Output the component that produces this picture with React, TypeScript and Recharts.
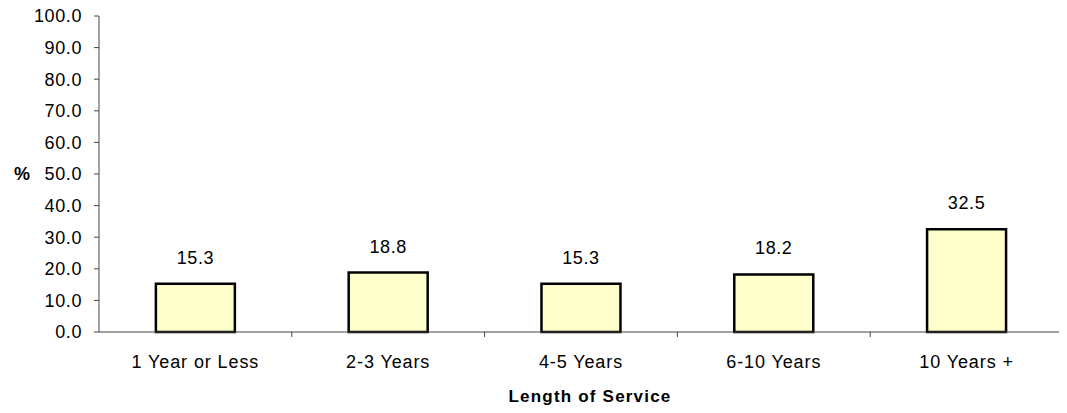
import React from "react";
import { BarChart, Bar, XAxis, YAxis, LabelList } from "recharts";

const categories = ["1 Year or Less", "2-3 Years", "4-5 Years", "6-10 Years", "10 Years +"];
const percents = [15.3, 18.8, 15.3, 18.2, 32.5];
const yTicks = [0, 10, 20, 30, 40, 50, 60, 70, 80, 90, 100];

const data = categories.map((name, i) => ({ name, value: percents[i] }));

const FONT = "'Liberation Sans', Arial, sans-serif";

// category label centred in its band, with a tick mark on the band's right edge
function CategoryTick(props: any) {
  const { x, y, payload } = props;
  const half = payload.offset ?? 96.4;
  return (
    <g>
      <line x1={x + half} x2={x + half} y1={y - 8} y2={y - 3} stroke="#444" strokeWidth={1} />
      <text
        x={x}
        y={y + 28}
        textAnchor="middle"
        fontFamily={FONT}
        fontSize={18}
        letterSpacing={0.9}
        fill="#000"
      >
        {payload.value}
      </text>
    </g>
  );
}

export default function App() {
  return (
    <div style={{ margin: -8, width: 1067, height: 413, background: "#fff" }}>
      <BarChart
        width={1067}
        height={413}
        data={data}
        margin={{ top: 16, right: 4, left: 0, bottom: 0 }}
        barCategoryGap="29.5%"
      >
        <XAxis
          dataKey="name"
          height={81}
          axisLine={{ stroke: "#444", strokeWidth: 1 }}
          tickLine={false}
          interval={0}
          tick={<CategoryTick />}
          label={{
            value: "Length of Service",
            position: "insideBottom",
            offset: 11,
            dx: 9,
            fontFamily: FONT,
            fontSize: 17,
            fontWeight: "bold",
            letterSpacing: 1.2,
            fill: "#000",
          }}
        />
        <YAxis
          width={99}
          domain={[0, 100]}
          ticks={yTicks}
          interval={0}
          tickFormatter={(v: number) => v.toFixed(1)}
          axisLine={{ stroke: "#444", strokeWidth: 1 }}
          tickLine={{ stroke: "#444", strokeWidth: 1 }}
          tickSize={5}
          tickMargin={12}
          tick={{ fontFamily: FONT, fontSize: 18, fill: "#000", letterSpacing: 0.6 }}
          label={{
            value: "%",
            position: "insideLeft",
            offset: 14,
            fontFamily: FONT,
            fontSize: 18,
            fontWeight: "bold",
            fill: "#000",
          }}
        />
        <Bar dataKey="value" fill="#FFFFCC" stroke="#000" strokeWidth={2.5} isAnimationActive={false}>
          <LabelList
            dataKey="value"
            position="top"
            offset={20}
            formatter={(v: any) => Number(v).toFixed(1)}
            style={{ fontFamily: FONT, fontSize: 18, fill: "#000", letterSpacing: 0.6 }}
          />
        </Bar>
      </BarChart>
    </div>
  );
}
